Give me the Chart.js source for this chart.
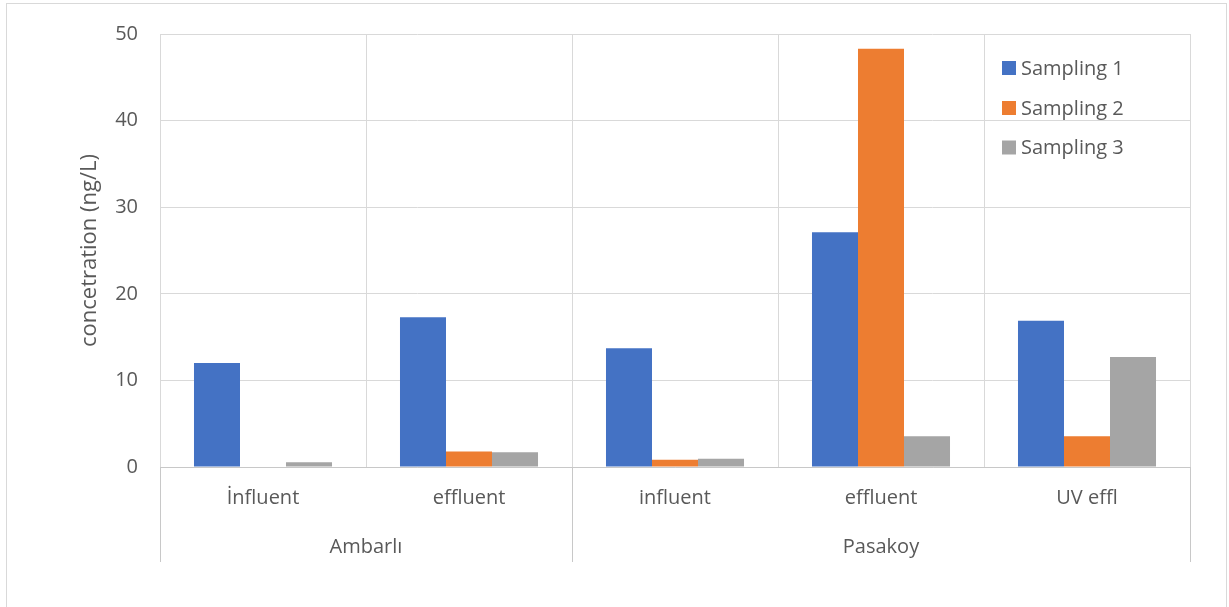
<!DOCTYPE html>
<html>
<head>
<meta charset="utf-8">
<script src="https://cdn.jsdelivr.net/npm/chart.js@4"></script>
<style>
  html, body { margin: 0; padding: 0; background: #fff; }
  #wrap { width: 1229px; height: 607px; }
</style>
</head>
<body>
<div id="wrap"><canvas id="chartConc" width="1229" height="607"></canvas></div>
<script>
const categorias = ['İnfluent', 'effluent', 'influent', 'effluent', 'UV effl'];
const grupos = ['Ambarlı', 'Pasakoy'];
const tamGrupos = [2, 3];
const sampling1 = [12.0, 17.3, 13.7, 27.1, 16.9];
const sampling2 = [null, 1.8, 0.85, 48.3, 3.55];
const sampling3 = [0.55, 1.7, 0.95, 3.55, 12.7];
const yTicks = [0, 10, 20, 30, 40, 50];

const fuente = '"Open Sans", "Noto Sans", sans-serif';
const gris = '#595959';

// marco, divisores de grupo y leyenda
const extras = {
  id: 'extras',
  beforeDraw(chart) {
    const c = chart.ctx;
    c.save();
    c.strokeStyle = '#d9d9d9';
    c.lineWidth = 1;
    c.strokeRect(6.5, 3.5, 1220, 620);
    c.restore();
  },
  afterDraw(chart) {
    const c = chart.ctx;
    const x = chart.scales.x;
    const bottom = chart.chartArea.bottom;
    c.save();
    c.strokeStyle = '#c8c8c8';
    c.lineWidth = 1;
    c.fillStyle = gris;
    c.font = '20px ' + fuente;
    c.textAlign = 'center';
    c.textBaseline = 'middle';
    let idx = 0;
    const half = (x.getPixelForValue(1) - x.getPixelForValue(0)) / 2;
    let edges = [x.getPixelForValue(0) - half];
    tamGrupos.forEach((n, g) => {
      const left = x.getPixelForValue(idx) - half;
      const right = x.getPixelForValue(idx + n - 1) + half;
      edges.push(right);
      c.fillText(grupos[g], (left + right) / 2, 547);
      idx += n;
    });
    edges.forEach(e => {
      const px = Math.round(e) + 0.5;
      c.beginPath();
      c.moveTo(px, bottom);
      c.lineTo(px, 562);
      c.stroke();
    });
    // leyenda
    const ys = [68, 108, 147.5];
    c.textAlign = 'left';
    chart.data.datasets.forEach((ds, i) => {
      c.fillStyle = ds.backgroundColor;
      c.fillRect(1002, ys[i] - 7, 14, 14);
      c.fillStyle = gris;
      c.fillText(ds.label, 1021, ys[i] + 1);
    });
    c.restore();
  }
};

const ctx = document.getElementById('chartConc');

new Chart(ctx, {
  type: 'bar',
  data: {
    labels: categorias,
    datasets: [
      { label: 'Sampling 1', data: sampling1, backgroundColor: '#4472c4' },
      { label: 'Sampling 2', data: sampling2, backgroundColor: '#ed7d31' },
      { label: 'Sampling 3', data: sampling3, backgroundColor: '#a5a5a5' }
    ]
  },
  options: {
    responsive: false,
    animation: false,
    layout: { padding: { top: 34, right: 39, bottom: 0, left: 0 } },
    datasets: { bar: { categoryPercentage: 0.67, barPercentage: 1.0 } },
    plugins: {
      legend: { display: false },
      tooltip: { enabled: false }
    },
    scales: {
      x: {
        afterFit: s => { s.height = 140; },
        grid: { offset: true, color: '#d9d9d9', drawTicks: false },
        border: { color: '#c8c8c8' },
        ticks: { color: gris, font: { family: fuente, size: 20 }, padding: 19, maxRotation: 0 }
      },
      y: {
        min: 0,
        max: 50,
        afterFit: s => { s.width = 160; },
        afterBuildTicks: s => { s.ticks = yTicks.map(v => ({ value: v })); },
        grid: { color: '#d9d9d9', drawTicks: false },
        border: { display: false },
        ticks: { color: gris, font: { family: fuente, size: 20 }, padding: 22 },
        title: {
          display: true,
          text: 'concetration (ng/L)',
          color: gris,
          font: { family: fuente, size: 22 },
          padding: { top: 77, bottom: 0 }
        }
      }
    }
  },
  plugins: [extras]
});
</script>
</body>
</html>
